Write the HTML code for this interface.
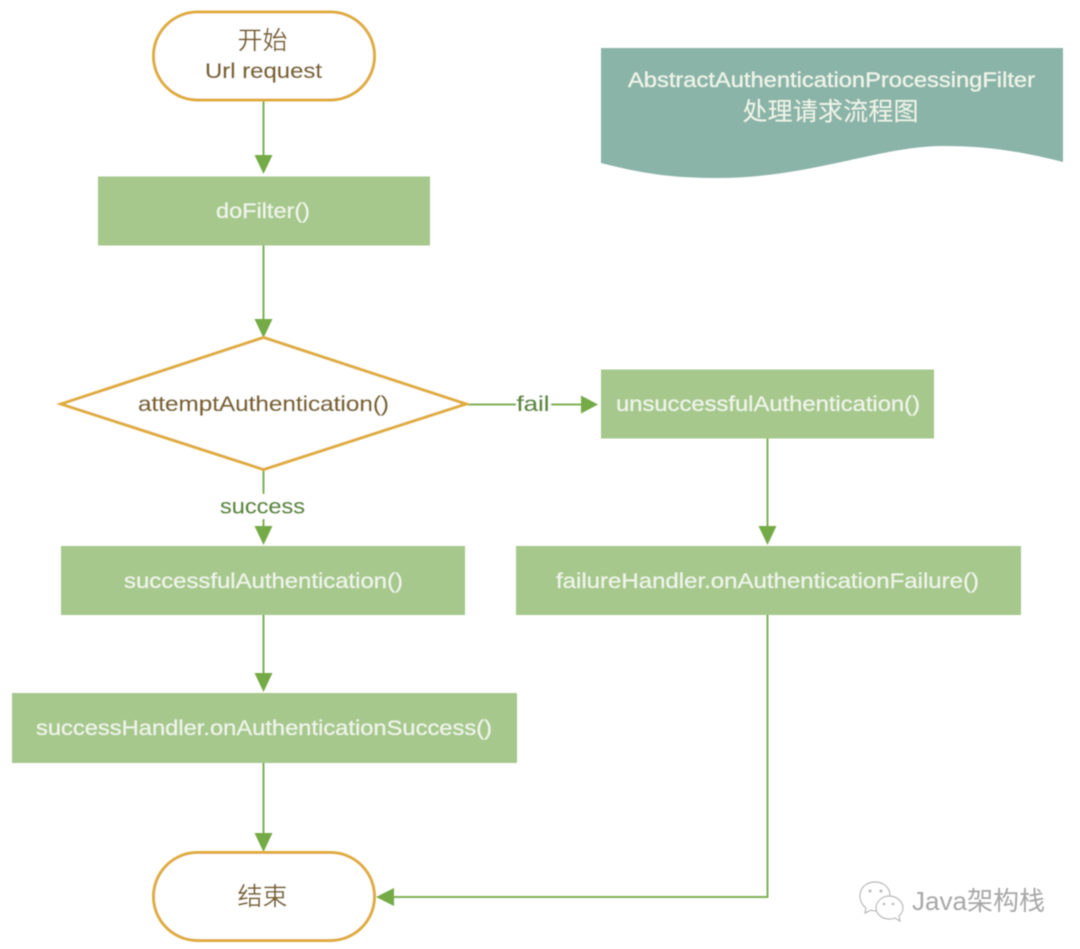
<!DOCTYPE html>
<html><head><meta charset="utf-8"><style>
html,body{margin:0;padding:0;background:#fff;width:1080px;height:949px;overflow:hidden}
svg{display:block}
text{font-family:"Liberation Sans","Noto Sans CJK SC",sans-serif;text-anchor:middle}
.w{fill:#eef4e8;font-size:21.5px;stroke:#eef4e8;stroke-width:.25}
.b{fill:#7d6329;font-size:21.5px;stroke:#7d6329;stroke-width:.35}
.g{fill:#5a8a35;font-size:21.5px;stroke:#5a8a35;stroke-width:.35}
.c{font-size:25px;stroke:none}
</style></head><body>
<svg width="1080" height="949" viewBox="0 0 1080 949" xmlns="http://www.w3.org/2000/svg">
<defs><filter id="s" x="-5%" y="-5%" width="110%" height="110%"><feGaussianBlur stdDeviation="0.45"/></filter></defs>
<g filter="url(#s)">
<!-- connectors -->
<g fill="none" stroke="#7fb257" stroke-width="2">
<path d="M263.5 100V156"/><path d="M263.5 245V320"/><path d="M263.5 469V527"/><path d="M263.5 614V674"/><path d="M263.5 762V834"/>
<path d="M467 404.500H582"/><path d="M767.500 438V527"/><path d="M767.500 614V897H393"/>
</g>
<g fill="#74ab46">
<path d="M254.500 155H272.500L263.500 174Z"/><path d="M254.500 319H272.500L263.500 338Z"/>
<path d="M254.500 526H272.500L263.500 545Z"/><path d="M254.500 673H272.500L263.500 692Z"/>
<path d="M254.500 833H272.500L263.500 852Z"/>
<path d="M581 395.500V413.500L598 404.500Z"/>
<path d="M758.500 526H776.500L767.500 545Z"/>
<path d="M394 888V906L376 897Z"/>
</g>
<!-- terminators -->
<rect x="153.500" y="12" width="221" height="88" rx="44" fill="#fff" stroke="#e0ac3e" stroke-width="3"/>
<rect x="153.500" y="852.500" width="221" height="88" rx="44" fill="#fff" stroke="#e0ac3e" stroke-width="3"/>
<!-- diamond -->
<path d="M61 404L263.500 337.500L466 404L263.500 469.500Z" fill="#fff" stroke="#e0ac3e" stroke-width="3"/>
<!-- process boxes -->
<g fill="#a6c88c">
<rect x="98" y="176.500" width="332" height="69"/>
<rect x="601" y="369.500" width="333" height="69"/>
<rect x="61" y="546" width="404" height="69"/>
<rect x="516" y="546" width="505" height="69"/>
<rect x="12" y="693" width="505" height="70"/>
</g>
<!-- document -->
<path d="M601 48H1063V162C1020 151 985 146 943 146C880 146 810 178 717 178C670 178 640 173 601 163Z" fill="#8bb4a9"/>
<!-- edge label backgrounds -->
<rect x="516" y="392" width="35" height="24" fill="#fff"/>
<rect x="218" y="494" width="90" height="25" fill="#fff"/>
<!-- labels -->
<text class="b c" x="262.500" y="49">开始</text>
<text class="b" x="263.500" y="78" textLength="117" lengthAdjust="spacingAndGlyphs">Url request</text>
<text class="w" x="263" y="218" textLength="94" lengthAdjust="spacingAndGlyphs">doFilter()</text>
<text class="b" x="263.500" y="411" textLength="251" lengthAdjust="spacingAndGlyphs">attemptAuthentication()</text>
<text class="w" x="768" y="411" textLength="304" lengthAdjust="spacingAndGlyphs">unsuccessfulAuthentication()</text>
<text class="w" x="263.500" y="588" textLength="279" lengthAdjust="spacingAndGlyphs">successfulAuthentication()</text>
<text class="w" x="767.500" y="588" textLength="423" lengthAdjust="spacingAndGlyphs">failureHandler.onAuthenticationFailure()</text>
<text class="w" x="264" y="735" textLength="456" lengthAdjust="spacingAndGlyphs">successHandler.onAuthenticationSuccess()</text>
<text class="b c" x="262.500" y="905">结束</text>
<text class="g" x="533" y="411" textLength="33" lengthAdjust="spacingAndGlyphs">fail</text>
<text class="g" x="262.500" y="513.500" textLength="85" lengthAdjust="spacingAndGlyphs">success</text>
<text class="w" x="831.500" y="87" textLength="407" lengthAdjust="spacingAndGlyphs">AbstractAuthenticationProcessingFilter</text>
<text class="w c" x="830.500" y="120" textLength="176">处理请求流程图</text>
<!-- watermark -->
<g fill="#fff" stroke="#b8b8b8" stroke-width="1.200">
<path d="M875 882C866 882 860 888 860 896C860 901 862 905 866 908L865 913L871 910C873 911 875 911 877 911C886 911 890 904 890 896C890 888 884 882 875 882Z"/>
<path d="M889 896C882 896 876 902 876 908C876 914 882 919 889 919C891 919 893 919 895 918L900 921L899 916C901 914 903 911 903 908C903 902 897 896 889 896Z"/>
</g>
<g fill="#c0c0c0"><circle cx="870" cy="891" r="1.600"/><circle cx="881" cy="891" r="1.600"/><circle cx="884" cy="904" r="1.400"/><circle cx="893" cy="904" r="1.400"/></g>
<text x="978.500" y="910" fill="#a8a8a8" style="font-size:26px">Java架构栈</text>
</g>
</svg>
</body></html>
